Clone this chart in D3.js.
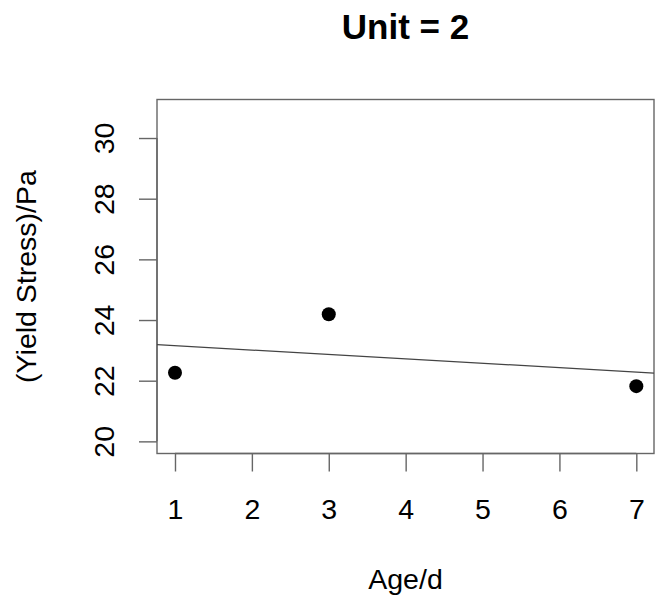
<!DOCTYPE html>
<html>
<head>
<meta charset="utf-8">
<script src="https://cdn.jsdelivr.net/npm/d3@7"></script>
<style>
html, body { margin: 0; padding: 0; background: #fff; }
svg { display: block; font-family: "Liberation Sans", Arial, sans-serif; }
</style>
</head>
<body>
<script>
// ---- data ----
const ages = [1, 3, 7];
const yieldStress = [22.26, 24.19, 21.82];
const xTicks = [1, 2, 3, 4, 5, 6, 7];
const yTicks = [20, 22, 24, 26, 28, 30];
const fitIntercept = 23.30;
const fitSlope = -0.145;
const title = "Unit = 2";
const xLabel = "Age/d";
const yLabel = "(Yield Stress)/Pa";

// ---- layout ----
const W = 655, H = 603;
const L = 157, R = 654, T = 99.5, B = 453.5;
const FS = 28.5;

const svg = d3.select("body").append("svg").attr("width", W).attr("height", H);

const x = d3.scaleLinear().domain([0.766, 7.23]).range([L, R]);
const y = d3.scaleLinear().domain([19.6, 31.27]).range([B, T]);

// plot box
svg.append("rect").attr("x", L).attr("y", T).attr("width", R - L).attr("height", B - T)
  .attr("fill", "none").attr("stroke", "#666").attr("stroke-width", 1.4);

// x axis
const xAxis = d3.axisBottom(x).tickValues(xTicks).tickSize(18).tickFormat(d3.format("d"));
const gx = svg.append("g").attr("transform", `translate(0,${B})`).call(xAxis);
gx.select(".domain").attr("d", `M${x(xTicks[0])},0H${x(xTicks[xTicks.length-1])}`).attr("stroke", "#666").attr("stroke-width", 1.4);
gx.selectAll(".tick line").attr("stroke", "#666").attr("stroke-width", 1.4);
gx.selectAll(".tick text").attr("font-size", FS).attr("fill", "#000")
  .attr("font-family", "Liberation Sans, Arial, sans-serif")
  .attr("dy", null).attr("y", 519 - B);

// y axis
const yAxis = d3.axisLeft(y).tickValues(yTicks).tickSize(18).tickFormat(d3.format("d"));
const gy = svg.append("g").attr("transform", `translate(${L},0)`).call(yAxis);
gy.select(".domain").attr("d", `M0,${y(yTicks[0])}V${y(yTicks[yTicks.length-1])}`).attr("stroke", "#666").attr("stroke-width", 1.4);
gy.selectAll(".tick line").attr("stroke", "#666").attr("stroke-width", 1.4);
gy.selectAll(".tick text").attr("font-size", FS).attr("fill", "#000")
  .attr("font-family", "Liberation Sans, Arial, sans-serif")
  .attr("x", null).attr("dy", null)
  .attr("text-anchor", "middle")
  .attr("transform", `translate(${113.5 - L},0) rotate(-90)`)
  .attr("y", 0);

// regression line
svg.append("line")
  .attr("x1", x(x.domain()[0])).attr("y1", y(fitIntercept + fitSlope * x.domain()[0]))
  .attr("x2", x(x.domain()[1])).attr("y2", y(fitIntercept + fitSlope * x.domain()[1]))
  .attr("stroke", "#444").attr("stroke-width", 1.2);

// points
svg.append("g").selectAll("circle").data(ages).join("circle")
  .attr("cx", (d) => x(d)).attr("cy", (d, i) => y(yieldStress[i]))
  .attr("r", 7).attr("fill", "#000");

// title
svg.append("text").attr("x", (L + R) / 2).attr("y", 39).attr("text-anchor", "middle")
  .attr("font-size", 35).attr("font-weight", "bold").text(title);

// axis labels
svg.append("text").attr("x", (L + R) / 2).attr("y", 589).attr("text-anchor", "middle")
  .attr("font-size", FS).text(xLabel);
svg.append("text").attr("transform", `translate(36,${(T + B) / 2}) rotate(-90)`)
  .attr("text-anchor", "middle").attr("font-size", FS).text(yLabel);
</script>
</body>
</html>
